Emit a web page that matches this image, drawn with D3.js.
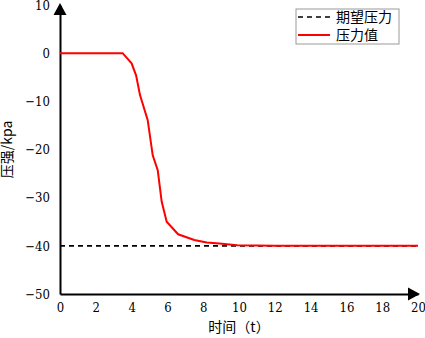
<!DOCTYPE html>
<html>
<head>
<meta charset="utf-8">
<script src="https://cdn.jsdelivr.net/npm/d3@7"></script>
<style>
  body { margin: 0; background: #fff; }
</style>
</head>
<body>
<svg width="425" height="338"></svg>
<script>
// values
const timeValues = [0, 1, 2, 3, 3.5, 4.0, 4.25, 4.47, 4.9, 5.18, 5.46, 5.68, 5.96, 6.6, 7.5, 8.2, 8.9, 9.9, 12, 14, 16, 18, 20];
const pressureValues = [0, 0, 0, 0, 0, -2.1, -4.6, -8.7, -13.9, -21.2, -24.3, -30.8, -35, -37.6, -38.8, -39.3, -39.5, -39.9, -40, -40, -40, -40, -40];
const targetTime = [0, 20];
const targetValues = [-40, -40];
const xTicks = [0, 2, 4, 6, 8, 10, 12, 14, 16, 18, 20];
const yTicks = [10, 0, -10, -20, -30, -40, -50];
const seriesNames = ['期望压力', '压力值'];

const numFont = '"DejaVu Serif Condensed", "DejaVu Serif", serif';
const cjkFont = '"Noto Sans CJK SC", sans-serif';

const svg = d3.select('svg');
const margin = {top: 5, right: 7, bottom: 44, left: 60};
const width = +svg.attr('width');
const height = +svg.attr('height');
const innerWidth = width - margin.left - margin.right;
const innerHeight = height - margin.top - margin.bottom;

const xScale = d3.scaleLinear().domain([0, 20]).range([0, innerWidth]);
const yScale = d3.scaleLinear().domain([-50, 10]).range([innerHeight, 0]);

const g = svg.append('g')
  .attr('transform', `translate(${margin.left},${margin.top})`);

const minus = d => d < 0 ? '\u2212' + Math.abs(d) : String(d);

// x axis
const xAxisG = g.append('g')
  .attr('transform', `translate(0,${innerHeight})`)
  .call(d3.axisBottom(xScale).tickValues(xTicks).tickSize(0).tickPadding(9))
  .attr('font-family', numFont)
  .attr('font-size', 13);
xAxisG.select('.domain').attr('stroke', '#000').attr('stroke-width', 2);

// y axis
const yAxisG = g.append('g')
  .call(d3.axisLeft(yScale).tickValues(yTicks).tickFormat(minus).tickSize(0).tickPadding(10))
  .attr('font-family', numFont)
  .attr('font-size', 13);
yAxisG.select('.domain').attr('stroke', '#000').attr('stroke-width', 2);

// arrow heads
g.append('path')
  .attr('d', `M${innerWidth + 2},${innerHeight} l-12,-6.5 l0,13 z`)
  .attr('fill', '#000');
g.append('path')
  .attr('d', `M0,-2 l-6.5,12 l13,0 z`)
  .attr('fill', '#000');

// axis labels
g.append('text')
  .attr('x', xScale(10))
  .attr('y', innerHeight + 38)
  .attr('text-anchor', 'middle')
  .attr('font-family', cjkFont)
  .attr('font-size', 14)
  .text('时间（t）');

g.append('text')
  .attr('transform', `translate(${-48},${innerHeight / 2}) rotate(-90)`)
  .attr('text-anchor', 'middle')
  .attr('font-family', cjkFont)
  .attr('font-size', 14)
  .text('压强/kpa');

// lines
const line = d3.line()
  .x(d => xScale(d[0]))
  .y(d => yScale(d[1]));

g.append('path')
  .datum(d3.zip(targetTime, targetValues))
  .attr('d', line)
  .attr('fill', 'none')
  .attr('stroke', '#000')
  .attr('stroke-width', 1.6)
  .attr('stroke-dasharray', '5,4');

g.append('path')
  .datum(d3.zip(timeValues, pressureValues))
  .attr('d', line)
  .attr('fill', 'none')
  .attr('stroke', '#ff0000')
  .attr('stroke-width', 2);

// legend
const legend = svg.append('g').attr('transform', 'translate(296,9)');
legend.append('rect')
  .attr('width', 103).attr('height', 35)
  .attr('fill', '#fff').attr('stroke', '#999').attr('stroke-width', 1);
legend.append('line')
  .attr('x1', 2).attr('x2', 34).attr('y1', 8).attr('y2', 8)
  .attr('stroke', '#000').attr('stroke-width', 1.6).attr('stroke-dasharray', '5,4');
legend.append('line')
  .attr('x1', 2).attr('x2', 34).attr('y1', 26).attr('y2', 26)
  .attr('stroke', '#ff0000').attr('stroke-width', 2);
legend.selectAll('text.lbl').data(seriesNames)
  .enter().append('text')
    .attr('class', 'lbl')
    .attr('x', 40)
    .attr('y', (d, i) => 13 + i * 18)
    .attr('font-family', cjkFont)
    .attr('font-size', 14)
    .text(d => d);
</script>
</body>
</html>
